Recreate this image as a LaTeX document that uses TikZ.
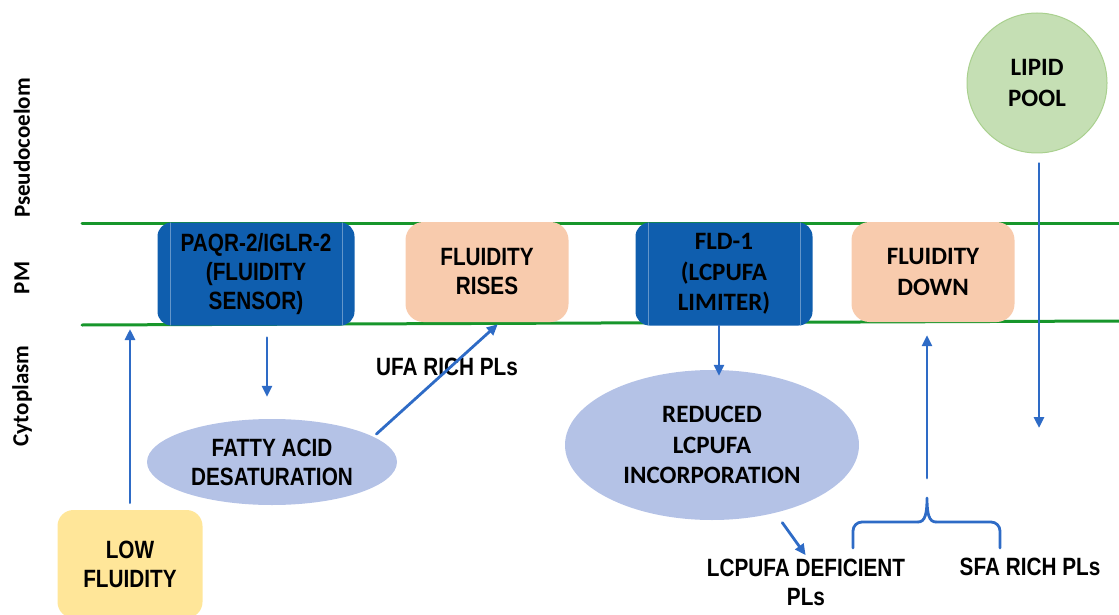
\documentclass[tikz,border=0pt]{standalone}
\usepackage{fontspec}
\setmainfont{Carlito}
\newfontfamily\arialn[FakeStretch=0.83]{Liberation Sans}
\usetikzlibrary{arrows.meta,positioning,calc,shapes.geometric}
\definecolor{membgreen}{HTML}{17962B}
\definecolor{sensorblue}{HTML}{0F5EAE}
\definecolor{peach}{HTML}{F8CBAD}
\definecolor{lowyellow}{HTML}{FFE699}
\definecolor{lavender}{HTML}{B4C2E6}
\definecolor{poolgreen}{HTML}{C5DFB4}
\definecolor{poolline}{HTML}{A9D08E}
\definecolor{arrowblue}{HTML}{2E6BC6}
\tikzset{
    every picture/.style={line cap=round,line join=round},
    calfont/.style={font=\fontsize{25}{30.5}\selectfont\bfseries},
    narfont/.style={font=\arialn\fontsize{25}{29}\selectfont\bfseries},
    sidefont/.style={font=\fontsize{23}{26}\selectfont\bfseries,rotate=90},
    membrane/.style={draw=membgreen,line width=3pt},
    sensorbox/.style={fill=sensorblue,rounded corners=14pt,inner sep=0pt,
      minimum height=103pt,align=center,
      path picture={
        \draw[sensorblue!65!white,line width=0.8pt]
          ([xshift=13pt]path picture bounding box.south west) --
          ([xshift=13pt]path picture bounding box.north west)
          ([xshift=-12pt]path picture bounding box.south east) --
          ([xshift=-12pt]path picture bounding box.north east);}},
    statebox/.style={fill=peach,rounded corners=18pt,inner sep=0pt,
      minimum width=163pt,minimum height=100pt,align=center},
    lowbox/.style={fill=lowyellow,rounded corners=16pt,inner sep=0pt,
      minimum width=145pt,minimum height=108pt,align=center},
    processnode/.style={ellipse,fill=lavender,inner sep=0pt,align=center},
    poolnode/.style={circle,fill=poolgreen,draw=poolline,line width=1pt,
      minimum size=140pt,inner sep=0pt,align=center},
    plnote/.style={narfont,align=center,inner sep=0pt},
    flow/.style={-{Triangle[length=11pt,width=10pt]},draw=arrowblue,line width=2.8pt},
    bracket/.style={draw=arrowblue,line width=2.8pt}
}
\begin{document}
\begin{tikzpicture}[x=1pt,y=-1pt]
  \useasboundingbox (0,0) rectangle (1119,615);
  % compartments
  \node[sidefont] (pseudo) at (22,148) {Pseudocoelom};
  \node[sidefont] (pm) at (22,278) {PM};
  \node[sidefont] (cyto) at (22,396) {Cytoplasm};
  \draw[membrane] (82,223) -- (1119,223);
  \draw[membrane] (82,325) -- (1119,321);
  % membrane boxes
  \node[sensorbox,narfont,minimum width=197pt] (paqr) at (256,274) {PAQR-2/IGLR-2\\(FLUIDITY\\SENSOR)};
  \node[statebox,narfont] (rises) at (487,272) {FLUIDITY\\RISES};
  \node[sensorbox,calfont,minimum width=177pt] (fld) at (724,274) {FLD-1\\(LCPUFA\\LIMITER)};
  \node[statebox,calfont] (down) at (933,272) {FLUIDITY\\DOWN};
  \node[poolnode,calfont] (pool) at (1037,83) {LIPID\\POOL};
  % cytoplasm
  \node[lowbox,narfont] (low) at (130,564) {LOW\\FLUIDITY};
  \node[processnode,narfont,minimum width=250pt,minimum height=86pt] (desat) at (272,462) {FATTY ACID\\DESATURATION};
  \node[processnode,calfont,minimum width=294pt,minimum height=150pt] (reduced) at (712,445) {REDUCED\\LCPUFA\\INCORPORATION};
  \node[plnote] (ufa) at (447,367) {UFA RICH PLs};
  \node[plnote] (deficient) at (806,582) {LCPUFA DEFICIENT\\PLs};
  \node[plnote] (sfa) at (1030,567) {SFA RICH PLs};
  \coordinate (pmlow) at (130,329);
  \coordinate (poolend) at (1039,428);
  \coordinate (braceL) at (853,548);
  \coordinate (braceR) at (1000,548);
  \coordinate (bracetip) at (927,498);
  % arrows
  \draw[flow,shorten <=7pt] (low.north) -- (pmlow);
  \draw[flow,shorten <=12pt,shorten >=22pt] ([xshift=11pt]paqr.south) -- ([xshift=11pt]paqr.south |- desat.north);
  \draw[flow,shorten <=4pt,shorten >=3pt] (desat.14) -- ([xshift=13pt]rises.south);
  \draw[flow,shorten >=-6pt] ([xshift=-5pt]fld.south) -- ([xshift=-5pt]fld.south |- reduced.north);
  \draw[flow,shorten <=20pt,shorten >=13pt] (bracetip) -- (bracetip |- down.south);
  \draw[flow,shorten <=10pt] (pool.south -| poolend) -- (poolend);
  \draw[flow,shorten <=12pt,shorten >=4pt] (reduced.-47) -- ([xshift=2pt]deficient.north);
  % brace
  \draw[bracket,rounded corners=9pt] (braceL) |- (918,522) (braceR) |- (936,522);
  \draw[bracket] (918,522) .. controls (925,522) and (927,514) .. (bracetip)
    .. controls (927,514) and (929,522) .. (936,522);
\end{tikzpicture}
\end{document}
